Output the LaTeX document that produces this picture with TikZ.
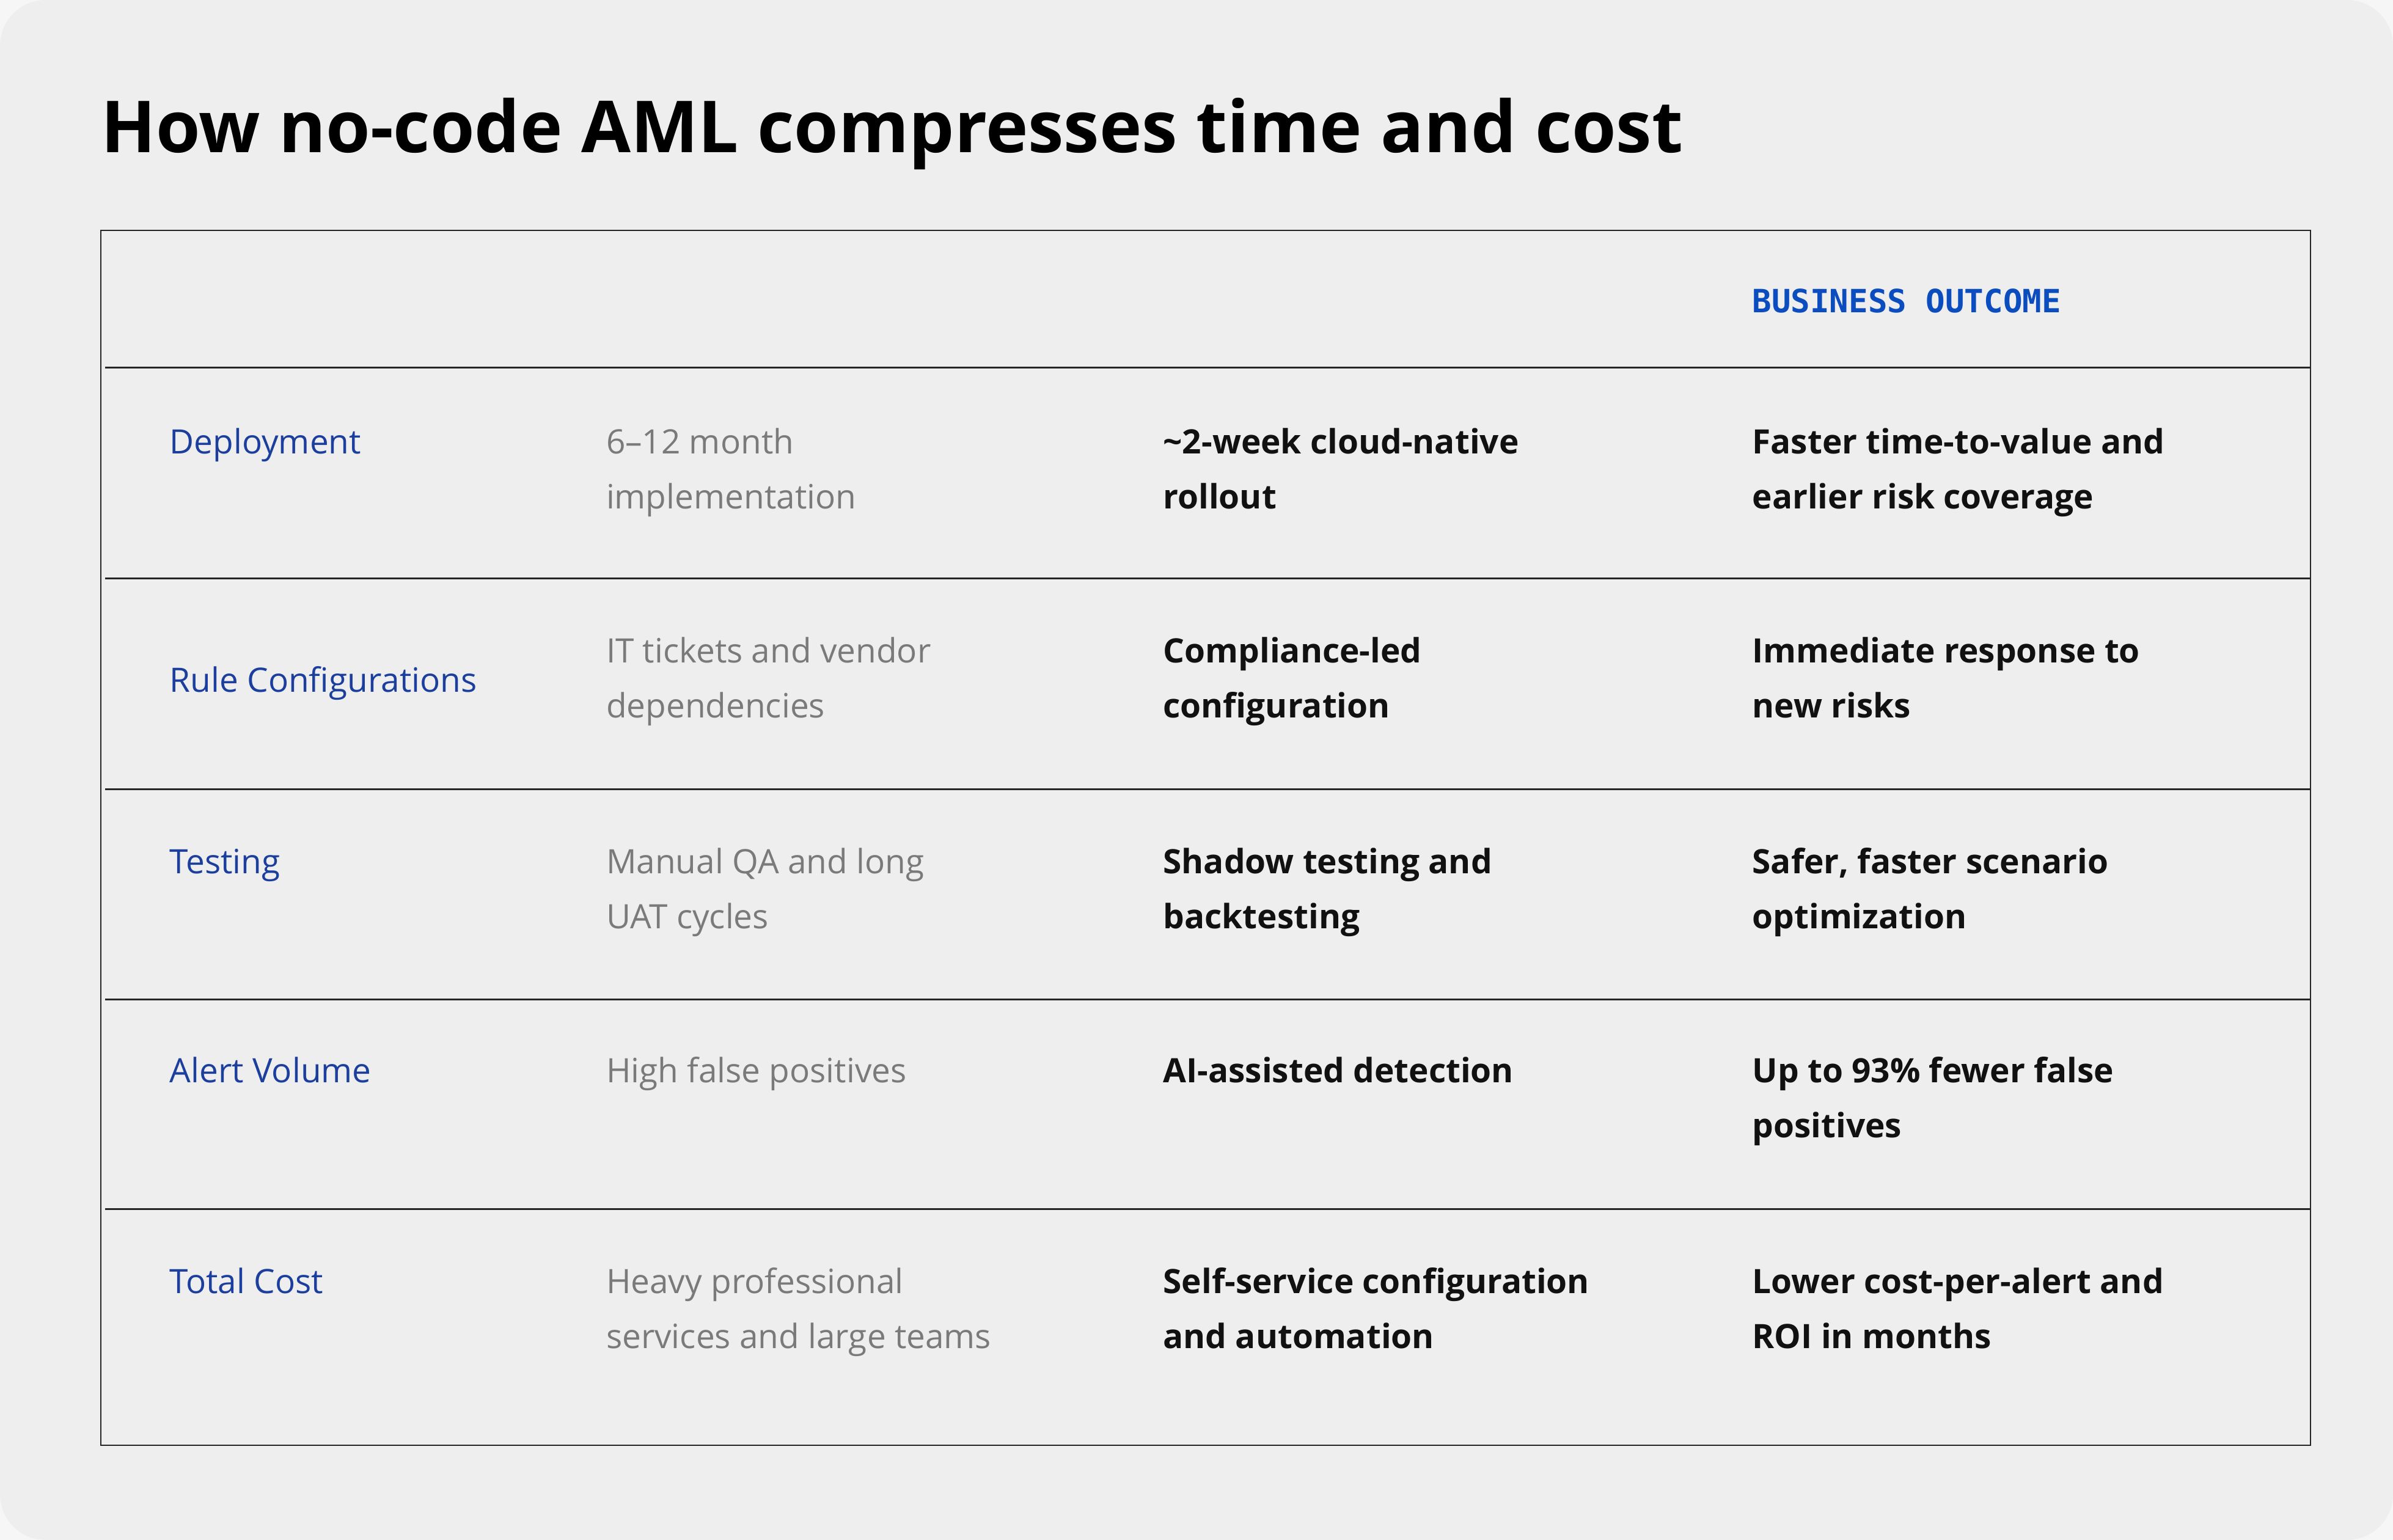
\documentclass[tikz,border=0pt]{standalone}
\usepackage{fontspec}
\setmainfont{Open Sans}
\newfontfamily\monof{DejaVu Sans Mono}
\definecolor{bgc}{HTML}{EEEEEE}
\definecolor{outc}{HTML}{F6F6F6}
\definecolor{lblue}{HTML}{1C3F9E}
\definecolor{hblue}{HTML}{0B4CBF}
\definecolor{gtext}{HTML}{7A7A7A}
\definecolor{ktext}{HTML}{111111}
\begin{document}
\begin{tikzpicture}[x=1pt,y=-1pt,
  cell/.style={anchor=north west,inner sep=0pt,align=left,font=\fontsize{22}{36}\selectfont},
  lab/.style={cell,text=lblue},
  old/.style={cell,text=gtext,font=\fontsize{22}{36}\selectfont\mdseries},
  new/.style={cell,text=ktext,font=\fontsize{22}{36}\selectfont\fontseries{sb}\selectfont},
  rowline/.style={draw=black!85,line width=1.2pt}]
\fill[outc] (0,0) rectangle (1568,1009);
\fill[bgc,rounded corners=30pt] (0,0) rectangle (1568,1009);
\useasboundingbox (0,0) rectangle (1568,1009);
\node[anchor=base west,inner sep=0pt,font=\fontsize{47}{50}\selectfont\bfseries] (title) at (66,100) {How no-code AML compresses time and cost};
\draw[black!85,line width=1pt] (66,151) rectangle (1514,947);
\foreach \yy in {241,379,517,655,792}{\draw[rowline] (69,\yy) -- (1514,\yy);}
\node[anchor=west,inner sep=0pt,text=hblue,font=\fontsize{21}{24}\monof\bfseries] (hdr) at (1148,197) {BUSINESS OUTCOME};
% rows
\node[lab] (l1) at (111,272) {\strut Deployment};
\node[old] (o1) at (397,272) {\strut 6–12 month\\implementation};
\node[new] (n1) at (762,272) {\strut \textasciitilde2-week cloud-native\\rollout};
\node[new] (b1) at (1148,272) {\strut Faster time-to-value and\\earlier risk coverage};
\node[lab] (l2) at (111,428) {\strut Rule Configurations};
\node[old] (o2) at (397,409) {\strut IT tickets and vendor\\dependencies};
\node[new] (n2) at (762,409) {\strut Compliance-led\\configuration};
\node[new] (b2) at (1148,409) {\strut Immediate response to\\new risks};
\node[lab] (l3) at (111,547) {\strut Testing};
\node[old] (o3) at (397,547) {\strut Manual QA and long\\UAT cycles};
\node[new] (n3) at (762,547) {\strut Shadow testing and\\backtesting};
\node[new] (b3) at (1148,547) {\strut Safer, faster scenario\\optimization};
\node[lab] (l4) at (111,684) {\strut Alert Volume};
\node[old] (o4) at (397,684) {\strut High false positives};
\node[new] (n4) at (762,684) {\strut AI-assisted detection};
\node[new] (b4) at (1148,684) {\strut Up to 93\% fewer false\\positives};
\node[lab] (l5) at (111,822) {\strut Total Cost};
\node[old] (o5) at (397,822) {\strut Heavy professional\\services and large teams};
\node[new] (n5) at (762,822) {\strut Self-service configuration\\and automation};
\node[new] (b5) at (1148,822) {\strut Lower cost-per-alert and\\ROI in months};
\end{tikzpicture}
\end{document}
